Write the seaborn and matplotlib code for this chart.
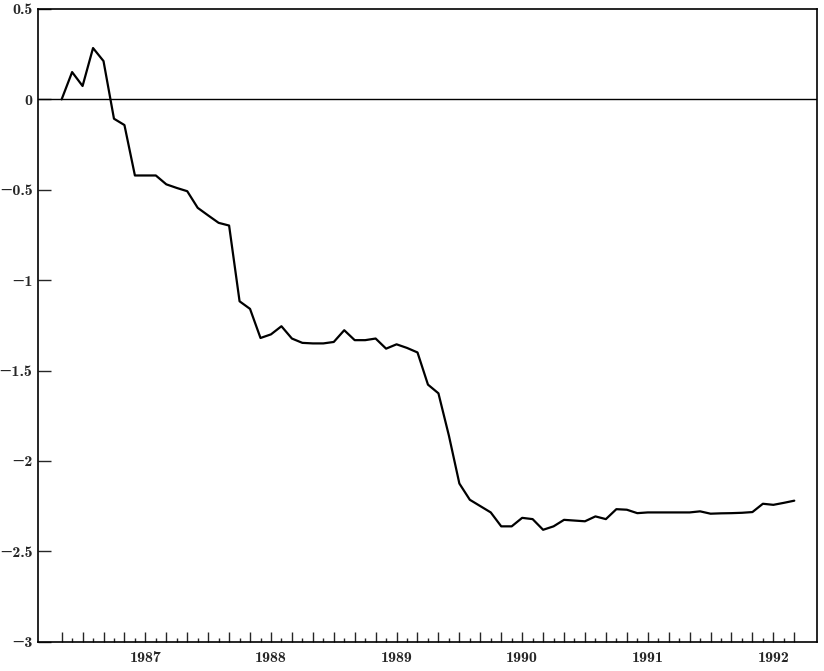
import numpy as np
import pandas as pd
import matplotlib.pyplot as plt
import seaborn as sns

# Monthly values, starting May 1986
values = [
    0.0, 0.151, 0.074, 0.284, 0.212, -0.107, -0.142, -0.421, -0.421, -0.421,
    -0.47, -0.49, -0.508, -0.60, -0.642, -0.683, -0.698, -1.117, -1.159, -1.32,
    -1.30, -1.255, -1.323, -1.347, -1.35, -1.35, -1.342, -1.277, -1.332, -1.332,
    -1.323, -1.379, -1.355, -1.375, -1.40, -1.578, -1.626, -1.86, -2.125, -2.215,
    -2.25, -2.285, -2.362, -2.362, -2.315, -2.322, -2.381, -2.362, -2.326, -2.33,
    -2.334, -2.307, -2.322, -2.267, -2.27, -2.289, -2.285, -2.285, -2.285, -2.285,
    -2.285, -2.279, -2.292, -2.29, -2.289, -2.287, -2.283, -2.237, -2.243, -2.232,
    -2.22,
]
year_labels = ["1987", "1988", "1989", "1990", "1991", "1992"]
year_months = [8, 20, 32, 44, 56, 68]
y_ticks = [0.5, 0, -0.5, -1, -1.5, -2, -2.5, -3]
y_labels = ["0.5", "0", "\u22120.5", "\u22121", "\u22121.5", "\u22122", "\u22122.5", "\u22123"]

df = pd.DataFrame({"month": np.arange(len(values)), "value": values})

sns.set_style("ticks")
plt.rcParams["font.family"] = ["cmb10", "DejaVu Serif"]

fig = plt.figure(figsize=(8.24, 6.71), dpi=100)
ax = fig.add_axes([0.0461, 0.0437, 0.9454, 0.9429])

sns.lineplot(data=df, x="month", y="value", color="black", linewidth=1.6, ax=ax)
ax.axhline(0, color="black", linewidth=1.0)

ax.set_xlim(-2.26, 72.17)
ax.set_ylim(-3, 0.5)

# ticks: long ones every two months, short ones in between
major = np.arange(0, len(values), 2)
minor = np.arange(1, len(values), 2)
ax.set_xticks(major)
ax.set_xticks(minor, minor=True)
lab = {m: name for m, name in zip(year_months, year_labels)}
ax.set_xticklabels([lab.get(m, "") for m in major])
ax.set_yticks(y_ticks)
ax.set_yticklabels(y_labels)

ax.tick_params(axis="x", which="major", direction="in", length=7, width=1,
               pad=7, labelsize=11.5)
ax.tick_params(axis="x", which="minor", direction="in", length=3, width=1)
ax.tick_params(axis="y", direction="in", length=9, width=1, pad=4, labelsize=11.5)

for s in ax.spines.values():
    s.set_linewidth(1.2)
    s.set_color("black")

ax.set_xlabel("")
ax.set_ylabel("")

fig.savefig("out.png", dpi=100)
